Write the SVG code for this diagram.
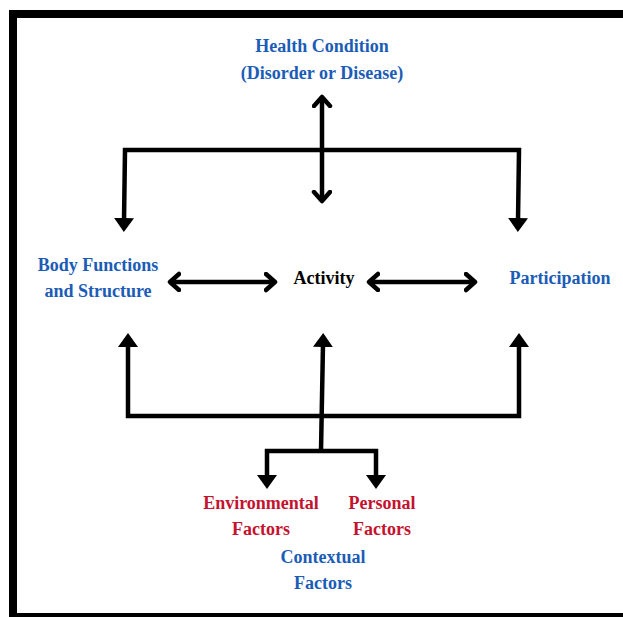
<svg xmlns="http://www.w3.org/2000/svg" width="623" height="617" viewBox="0 0 623 617">
<style>
text{font-family:"Liberation Serif","Times New Roman",serif;font-weight:bold;font-size:18px;text-anchor:middle}
.blue{fill:#1b5cb6}
.red{fill:#c4122f}
.black{fill:#000}
.ln{stroke:#000;stroke-width:4.5;fill:none;stroke-linejoin:miter}
</style>
<defs>
<marker id="tri" markerUnits="userSpaceOnUse" viewBox="0 0 14 20" refX="3" refY="10" markerWidth="14" markerHeight="20" orient="auto-start-reverse">
<path d="M0,0 L14,10 L0,20 Z" fill="#000"/>
</marker>
<marker id="chev" markerUnits="userSpaceOnUse" viewBox="-2 -2 14 22" refX="9" refY="8" markerWidth="14" markerHeight="22" orient="auto-start-reverse">
<path d="M0,0 L9,8 L0,16" fill="none" stroke="#000" stroke-width="4.5" stroke-linecap="round" stroke-linejoin="round"/>
</marker>
</defs>
<rect x="0" y="0" width="623" height="617" fill="#fff"/>
<rect x="9" y="10" width="630" height="620" fill="#000"/>
<rect x="17" y="18" width="620" height="595" fill="#fff"/>
<g id="connectors">
<line class="ln" x1="322" y1="97" x2="322" y2="201" marker-start="url(#chev)" marker-end="url(#chev)"/>
<polyline class="ln" points="124,221 125,150 519,150 518,221" marker-start="url(#tri)" marker-end="url(#tri)"/>
<line class="ln" x1="170" y1="282" x2="275" y2="282" marker-start="url(#chev)" marker-end="url(#chev)"/>
<line class="ln" x1="369" y1="282" x2="475" y2="282" marker-start="url(#chev)" marker-end="url(#chev)"/>
<polyline class="ln" points="128,344 128,416 519,416 519,344" marker-start="url(#tri)" marker-end="url(#tri)"/>
<line class="ln" x1="323" y1="344" x2="321" y2="451" marker-start="url(#tri)"/>
<polyline class="ln" points="267,478 267,451 376,451 376,478" marker-start="url(#tri)" marker-end="url(#tri)"/>
</g>
<g id="health">
<text class="blue" x="322" y="52">Health Condition</text>
<text class="blue" x="322" y="79">(Disorder or Disease)</text>
</g>
<g id="body">
<text class="blue" x="98" y="271">Body Functions</text>
<text class="blue" x="98" y="297">and Structure</text>
</g>
<g id="activity">
<text class="black" x="324" y="284">Activity</text>
</g>
<g id="participation">
<text class="blue" x="560" y="284">Participation</text>
</g>
<g id="environmental">
<text class="red" x="261" y="509">Environmental</text>
<text class="red" x="261" y="535">Factors</text>
</g>
<g id="personal">
<text class="red" x="382" y="509">Personal</text>
<text class="red" x="382" y="535">Factors</text>
</g>
<g id="contextual">
<text class="blue" x="323" y="563">Contextual</text>
<text class="blue" x="323" y="589">Factors</text>
</g>
</svg>
